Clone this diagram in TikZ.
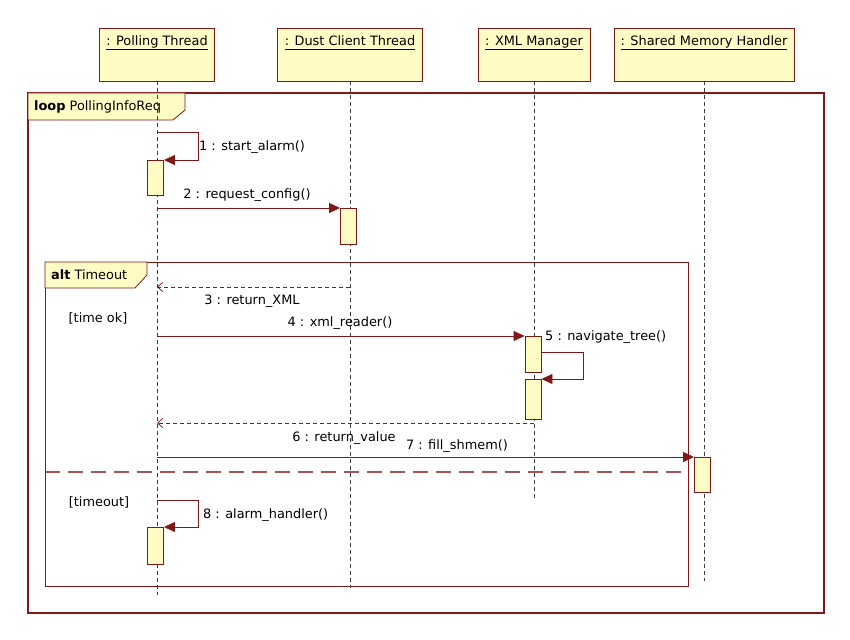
\documentclass[tikz,border=0pt]{standalone}
\usepackage{fontspec}
\setmainfont{DejaVu Sans}
\usetikzlibrary{arrows.meta,positioning}
\definecolor{umlred}{RGB}{128,24,24}
\definecolor{sepred}{RGB}{165,85,85}
\definecolor{umlfill}{RGB}{255,251,196}
\definecolor{lifegray}{RGB}{60,60,60}

\begin{document}
\begin{tikzpicture}[x=1pt,y=-1pt,
        font=\fontsize{12.9}{14}\selectfont,
        head/.style={draw=umlred,fill=umlfill,line width=0.9pt,minimum height=53pt,inner sep=0pt},
        headtxt/.style={inner sep=0pt,anchor=north},
        act/.style={draw=umlred,fill=umlfill,line width=0.9pt,minimum width=16pt,inner sep=0pt,anchor=north},
        life/.style={draw=lifegray,line width=1pt,dash pattern=on 4pt off 3pt},
        msg/.style={draw=umlred,line width=0.8pt,-{Triangle[length=11pt,width=10pt]}},
        ret/.style={draw=umlred,line width=0.8pt,dash pattern=on 4pt off 3pt,-{Straight Barb[length=5pt,width=9pt]}},
        frame/.style={draw=umlred,line width=1.1pt},
        tab/.style={draw=umlred,fill=umlfill,line width=0.8pt},
        sep/.style={draw=sepred,line width=1.2pt,dash pattern=on 15pt off 8pt},
        txt/.style={inner sep=0pt}]
    \useasboundingbox (0,0) rectangle (850,639);

    % frames
    \draw[frame] (28,93) rectangle (824,613);
    \draw[tab] (28,93) -- (185,93) -- (185,110) -- (173,120) -- (28,120) -- cycle;
    \node[txt,anchor=west] (loopname) at (34,107) {\textbf{loop} PollingInfoReq};
    \draw[frame,line width=0.8pt] (45,262) rectangle (688,586);
    \draw[tab] (45,262) -- (147,262) -- (147,275) -- (135,288) -- (45,288) -- cycle;
    \node[txt,anchor=west] (altname) at (51,275) {\textbf{alt} Timeout};
    \draw[sep] (45,472) -- (688,472);
    \node[txt] (okguard) at (98,318) {[time ok]};
    \node[txt] (toguard) at (99,502) {[timeout]};

    % lifelines
    \node[head,minimum width=115pt] (poll) at (157,54.5) {};
    \node[head,minimum width=145pt] (dust) at (350,54.5) {};
    \node[head,minimum width=112pt] (xml) at (534,54.5) {};
    \node[head,minimum width=180pt] (shm) at (704,54.5) {};
    \node[headtxt,below=8pt of poll.north] (pollname) {\underline{: Polling Thread\vphantom{g}}};
    \node[headtxt,below=8pt of dust.north] (dustname) {\underline{: Dust Client Thread\vphantom{g}}};
    \node[headtxt,below=8pt of xml.north] (xmlname) {\underline{: XML Manager\vphantom{g}}};
    \node[headtxt,below=8pt of shm.north] (shmname) {\underline{: Shared Memory Handler\vphantom{g}}};
    \coordinate (pollend) at (157,595);
    \coordinate (dustend) at (350,588);
    \coordinate (xmlend) at (534,500);
    \coordinate (shmend) at (704,581);
    \draw[life] (poll.south) -- (pollend);
    \draw[life] (dust.south) -- (dustend);
    \draw[life] (xml.south) -- (xmlend);
    \draw[life] (shm.south) -- (shmend);

    % activations
    \node[act,minimum height=35pt] (pollact1) at (155.5,160) {};
    \node[act,minimum height=36pt] (dustact) at (348.5,208) {};
    \node[act,minimum height=36pt] (xmlact1) at (533,336) {};
    \node[act,minimum height=40pt] (xmlact2) at (533,379) {};
    \node[act,minimum height=35pt] (shmact) at (702.5,457) {};
    \node[act,minimum height=37pt] (pollact2) at (155.5,527) {};

    % messages
    \coordinate (m1) at (157,132);
    \draw[msg] (m1) -- ++(41,0) |- (pollact1.north east);
    \node[txt,anchor=west] (m1lbl) at (199,147) {1 : start\_alarm()};
    \coordinate (m2) at (157,208);
    \draw[msg] (m2) -- (dustact.north west);
    \node[txt] (m2lbl) at (247,195) {2 : request\_config()};
    \coordinate (r3a) at (350,287);
    \coordinate (r3b) at (157,287);
    \draw[ret] (r3a) -- (r3b);
    \node[txt] (r3lbl) at (252,301) {3 : return\_XML};
    \coordinate (m4) at (157,336);
    \draw[msg] (m4) -- (xmlact1.north west);
    \node[txt] (m4lbl) at (340,323) {4 : xml\_reader()};
    \coordinate (m5) at (541,352);
    \draw[msg] (m5) -- ++(42,0) |- (xmlact2.north east);
    \node[txt,anchor=west] (m5lbl) at (545,337) {5 : navigate\_tree()};
    \coordinate (r6a) at (534,423);
    \coordinate (r6b) at (157,423);
    \draw[ret] (r6a) -- (r6b);
    \node[txt] (r6lbl) at (344,438) {6 : return\_value};
    \coordinate (m7) at (157,457);
    \draw[msg] (m7) -- (shmact.north west);
    \node[txt] (m7lbl) at (457,446) {7 : fill\_shmem()};
    \coordinate (m8) at (157,500);
    \draw[msg] (m8) -- ++(41,0) |- (pollact2.north east);
    \node[txt,anchor=west] (m8lbl) at (203,515) {8 : alarm\_handler()};
\end{tikzpicture}
\end{document}
